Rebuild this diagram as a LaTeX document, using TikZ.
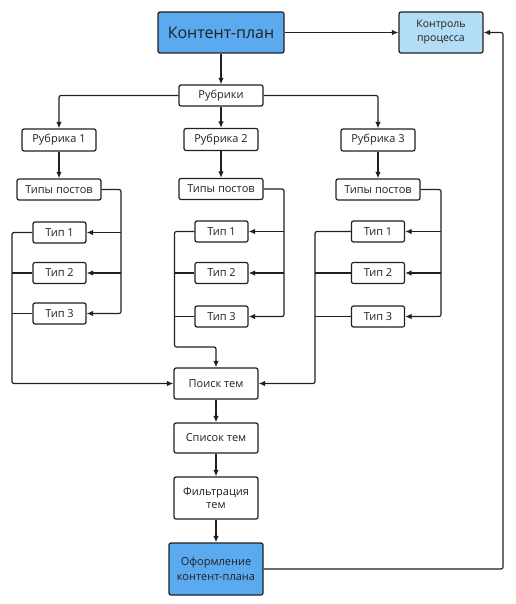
\documentclass[tikz,border=0pt]{standalone}
\usepackage{fontspec}
\setmainfont{Open Sans}
\usetikzlibrary{arrows.meta,calc}
\definecolor{bluedark}{HTML}{5BAAF0}
\definecolor{bluelight}{HTML}{B3DCF7}
\definecolor{ink}{HTML}{202020}
\tikzset{
  box/.style={draw=ink, line width=1.2pt, rounded corners=2pt, fill=white, text=ink,
    inner sep=0pt, align=center, font=\fontsize{11}{13}\selectfont},
  bigbox/.style={box, fill=bluedark, font=\fontsize{16}{19}\selectfont},
  ctrlbox/.style={box, fill=bluelight, font=\fontsize{10.5}{14}\selectfont},
  finbox/.style={box, fill=bluedark, font=\fontsize{11}{15}\selectfont},
  wire/.style={draw=ink, line width=1.2pt, rounded corners=2pt},
  arr/.style={wire, -{Latex[length=6.5pt,width=5.5pt]}},
}
\begin{document}
\begin{tikzpicture}[x=1pt,y=-1pt]
\useasboundingbox (0,0) rectangle (515,604);
% top
\node[bigbox, minimum width=126pt, minimum height=41pt] (cp) at (221,32.5) {Контент-план};
\node[ctrlbox, minimum width=84pt, minimum height=41pt] (ctrl) at (441,32.5) {Контроль\\процесса};
\node[box, minimum width=84pt, minimum height=21pt] (rub) at (221,95.5) {Рубрики};
% rubrics
\node[box, minimum width=74pt, minimum height=22pt] (r1) at (59,140) {Рубрика 1};
\node[box, minimum width=74pt, minimum height=22pt] (r2) at (221,139.5) {Рубрика 2};
\node[box, minimum width=74pt, minimum height=22pt] (r3) at (378,140) {Рубрика 3};
% post types
\node[box, minimum width=84pt, minimum height=21pt] (t1) at (59,189.5) {Типы постов};
\node[box, minimum width=84pt, minimum height=21pt] (t2) at (221,189) {Типы постов};
\node[box, minimum width=84pt, minimum height=21pt] (t3) at (378,189.5) {Типы постов};
% types col 1
\node[box, minimum width=53pt, minimum height=21pt] (a11) at (59.5,232.5) {Тип 1};
\node[box, minimum width=53pt, minimum height=21pt] (a12) at (59.5,273) {Тип 2};
\node[box, minimum width=53pt, minimum height=21pt] (a13) at (59.5,313.5) {Тип 3};
% types col 2
\node[box, minimum width=53pt, minimum height=21pt] (a21) at (221.5,231.5) {Тип 1};
\node[box, minimum width=53pt, minimum height=21pt] (a22) at (221.5,273) {Тип 2};
\node[box, minimum width=53pt, minimum height=21pt] (a23) at (221.5,316.5) {Тип 3};
% types col 3
\node[box, minimum width=53pt, minimum height=21pt] (a31) at (378,231.5) {Тип 1};
\node[box, minimum width=53pt, minimum height=21pt] (a32) at (378,273) {Тип 2};
\node[box, minimum width=53pt, minimum height=21pt] (a33) at (378,316.5) {Тип 3};
% bottom chain
\node[box, minimum width=84pt, minimum height=31pt] (poisk) at (216,383.5) {Поиск тем};
\node[box, minimum width=84pt, minimum height=30pt] (spisok) at (216,438) {Список тем};
\node[box, minimum width=84pt, minimum height=42pt] (filtr) at (216,498) {Фильтрация\\тем};
\node[finbox, minimum width=94pt, minimum height=52pt] (oform) at (216,569) {Оформление\\контент-плана};
% bus coordinates
\coordinate (R1) at (121,0);
\coordinate (R2) at (284,0);
\coordinate (R3) at (441,0);
\coordinate (L1) at (12,0);
\coordinate (L2) at (174.5,0);
\coordinate (L3) at (315,0);
\coordinate (J2) at (216,347);
\coordinate (RB) at (503,0);
% top connectors
\draw[arr] (cp.east) -- (ctrl.west);
\draw[arr] (cp.south) -- (rub.north);
\draw[arr] (rub.west) -| (r1.north);
\draw[arr] (rub.south) -- (r2.north);
\draw[arr] (rub.east) -| (r3.north);
\draw[arr] (r1.south) -- (t1.north);
\draw[arr] (r2.south) -- (t2.north);
\draw[arr] (r3.south) -- (t3.north);
% right buses
\draw[arr] (t1.east) -- (t1.east -| R1) -- (a13.east -| R1) -- (a13.east);
\draw[arr] (a11.east -| R1) -- (a11.east);
\draw[arr] (a12.east -| R1) -- (a12.east);
\draw[arr] (t2.east) -- (t2.east -| R2) -- (a23.east -| R2) -- (a23.east);
\draw[arr] (a21.east -| R2) -- (a21.east);
\draw[arr] (a22.east -| R2) -- (a22.east);
\draw[arr] (t3.east) -- (t3.east -| R3) -- (a33.east -| R3) -- (a33.east);
\draw[arr] (a31.east -| R3) -- (a31.east);
\draw[arr] (a32.east -| R3) -- (a32.east);
% left buses
\draw[arr] (a11.west) -- (a11.west -| L1) -- (poisk.west -| L1) -- (poisk.west);
\draw[wire] (a12.west) -- (a12.west -| L1);
\draw[wire] (a13.west) -- (a13.west -| L1);
\draw[arr] (a21.west) -- (a21.west -| L2) -- (J2 -| L2) -- (J2) -- (poisk.north);
\draw[wire] (a22.west) -- (a22.west -| L2);
\draw[wire] (a23.west) -- (a23.west -| L2);
\draw[arr] (a31.west) -- (a31.west -| L3) -- (poisk.east -| L3) -- (poisk.east);
\draw[wire] (a32.west) -- (a32.west -| L3);
\draw[wire] (a33.west) -- (a33.west -| L3);
% bottom chain
\draw[arr] (poisk.south) -- (spisok.north);
\draw[arr] (spisok.south) -- (filtr.north);
\draw[arr] (filtr.south) -- (oform.north);
\draw[arr] (oform.east) -- (oform.east -| RB) -- (ctrl.east -| RB) -- (ctrl.east);
\end{tikzpicture}
\end{document}
